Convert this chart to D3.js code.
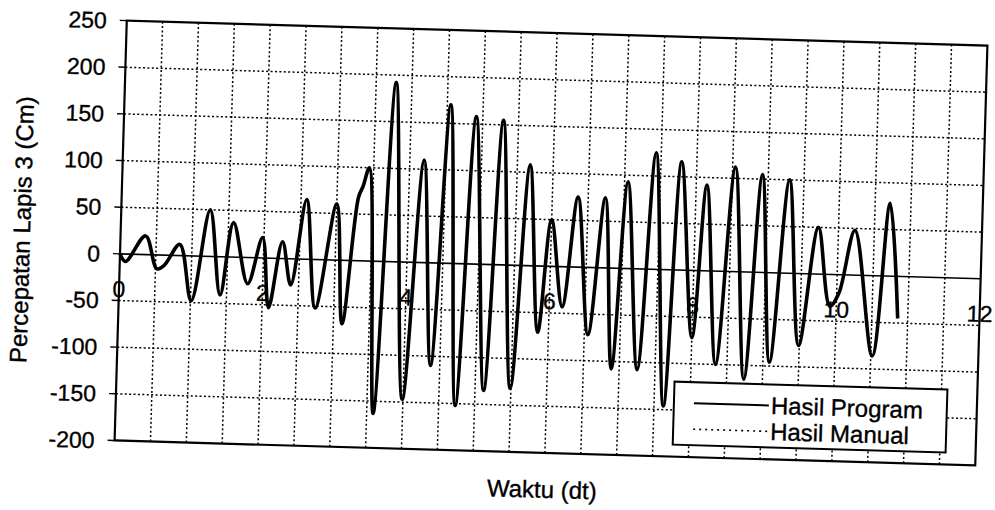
<!DOCTYPE html>
<html lang="en">
<head>
<meta charset="utf-8">
<title>Percepatan Lapis 3</title>
<script src="https://d3js.org/d3.v7.min.js"></script>
<style>
  html, body { margin: 0; padding: 0; background: #fff; }
  svg { display: block; font-family: "Liberation Sans", Arial, sans-serif; }
  svg text { fill: #000; stroke: #000; stroke-width: 0.35; }
  .grid line { stroke: #000; stroke-width: 1.5; stroke-dasharray: 2,2.4; }
</style>
</head>
<body>
<svg id="chart" width="995" height="510"></svg>
<script>
// values (peaks and troughs of the record)
const waktu = [0.00, 0.08, 0.35, 0.52, 0.62, 0.83, 1.01, 1.24, 1.41, 1.57, 1.79, 1.98,
  2.09, 2.26, 2.39, 2.58, 2.74, 3.00, 3.12, 3.30, 3.36, 3.44, 3.59, 3.78, 3.99, 4.20,
  4.37, 4.55, 4.73, 4.91, 5.12, 5.29, 5.49, 5.68, 5.85, 6.00, 6.18, 6.36, 6.55, 6.74,
  6.89, 7.05, 7.25, 7.43, 7.63, 7.79, 8.00, 8.15, 8.34, 8.54, 8.74, 8.92, 9.09, 9.30,
  9.49, 9.72, 9.91, 10.03, 10.23, 10.52, 10.71, 10.86];
const hasilProgram = [0, -8, 20, -15, -11, 12, -48, 50, -41, 37, -28, 22,
  -53, 18, -28, 64, -52, 60, -68, 68, 80, 100, -163, 192, -147, 110,
  -110, 170, -152, 158, -135, 155, -132, 108, -71, 50, -43, 75, -72, 75,
  -108, 93, -108, 125, -146, 116, -72, 92, -100, 112, -115, 105, -96, 100,
  -77, 50, -34, -20, 48, -86, 78, -45];
// the manual result lies on top of the program result everywhere in the picture
const hasilManual = hasilProgram.slice();

const xTickLabels = [0, 2, 4, 6, 8, 10, 12];
const yTickLabels = [250, 200, 150, 100, 50, 0, -50, -100, -150, -200];
const seriesNames = ['Hasil Program', 'Hasil Manual'];

const plotW = 861, plotH = 420;
const cx = 551, cy = 243;
const plotLeft = cx - plotW / 2, plotTop = cy - plotH / 2;
const tilt = 1.66; // the scan is slightly turned

const svg = d3.select('#chart');
const frame = svg.append('g')
  .attr('transform', `rotate(${tilt},${cx},${cy})`);
const plot = frame.append('g')
  .attr('transform', `translate(${plotLeft},${plotTop})`);

const x = d3.scaleLinear().domain([0, 12]).range([0, plotW]);
const y = d3.scaleLinear().domain([-200, 250]).range([plotH, 0]);

// dotted grid
const grid = plot.append('g').attr('class', 'grid');
grid.selectAll('line.v')
  .data(x.ticks(24).filter(d => d > 0 && d < 12))
  .enter().append('line')
    .attr('class', 'v')
    .attr('x1', d => x(d)).attr('x2', d => x(d))
    .attr('y1', 0).attr('y2', plotH);
grid.selectAll('line.h')
  .data(y.ticks(9).filter(d => d > -200 && d < 250 && d !== 0))
  .enter().append('line')
    .attr('class', 'h')
    .attr('x1', 0).attr('x2', plotW)
    .attr('y1', d => y(d)).attr('y2', d => y(d));

// zero axis
plot.append('line')
  .attr('x1', 0).attr('x2', plotW)
  .attr('y1', y(0)).attr('y2', y(0))
  .attr('stroke', '#000').attr('stroke-width', 1.6);

// plot border
plot.append('rect')
  .attr('width', plotW).attr('height', plotH)
  .attr('fill', 'none').attr('stroke', '#000').attr('stroke-width', 2.2);

// y ticks and labels
const yAxis = plot.append('g');
yAxis.selectAll('line')
  .data(yTickLabels)
  .enter().append('line')
    .attr('x1', -7).attr('x2', 0)
    .attr('y1', d => y(d)).attr('y2', d => y(d))
    .attr('stroke', '#000').attr('stroke-width', 1.4);
yAxis.selectAll('text')
  .data(yTickLabels)
  .enter().append('text')
    .attr('x', -20)
    .attr('y', d => y(d))
    .attr('dy', '0.36em')
    .attr('text-anchor', 'end')
    .attr('font-size', 23)
    .text(d => d);

// x labels sit under the zero line
plot.append('g').selectAll('text')
  .data(xTickLabels)
  .enter().append('text')
    .attr('x', d => x(d))
    .attr('y', y(0) + 43)
    .attr('text-anchor', 'middle')
    .attr('font-size', 23)
    .text(d => d);

// series
const line = d3.line()
  .x(d => x(d[0]))
  .y(d => y(d[1]))
  .curve(d3.curveCatmullRom.alpha(0.5));

plot.append('path')
  .datum(d3.zip(waktu, hasilProgram))
  .attr('d', line)
  .attr('fill', 'none')
  .attr('stroke', '#000')
  .attr('stroke-width', 3.6)
  .attr('stroke-linejoin', 'round');

plot.append('path')
  .datum(d3.zip(waktu, hasilManual))
  .attr('d', line)
  .attr('fill', 'none')
  .attr('stroke', '#000')
  .attr('stroke-width', 1.4)
  .attr('stroke-dasharray', '2,3');

// legend
const legend = plot.append('g')
  .attr('transform', `translate(${plotW - 303},${plotH - 75})`);
legend.append('rect')
  .attr('width', 273).attr('height', 63)
  .attr('fill', '#fff').attr('stroke', '#000').attr('stroke-width', 2);
const legendRow = legend.selectAll('g.row')
  .data(seriesNames)
  .enter().append('g')
    .attr('class', 'row')
    .attr('transform', (d, i) => `translate(0,${21 + i * 26})`);
legendRow.append('line')
  .attr('x1', 20).attr('x2', 95)
  .attr('stroke', '#000')
  .attr('stroke-width', (d, i) => i === 0 ? 2 : 1.6)
  .attr('stroke-dasharray', (d, i) => i === 0 ? null : '2,4');
legendRow.append('text')
  .attr('x', 97)
  .attr('dy', '0.36em')
  .attr('font-size', 24)
  .text(d => d);

// axis titles
frame.append('text')
  .attr('transform', 'translate(30,245) rotate(-90)')
  .attr('text-anchor', 'middle')
  .attr('font-size', 24)
  .text('Percepatan Lapis 3 (Cm)');
frame.append('text')
  .attr('x', 549).attr('y', 498)
  .attr('text-anchor', 'middle')
  .attr('font-size', 24)
  .text('Waktu (dt)');
</script>
</body>
</html>
